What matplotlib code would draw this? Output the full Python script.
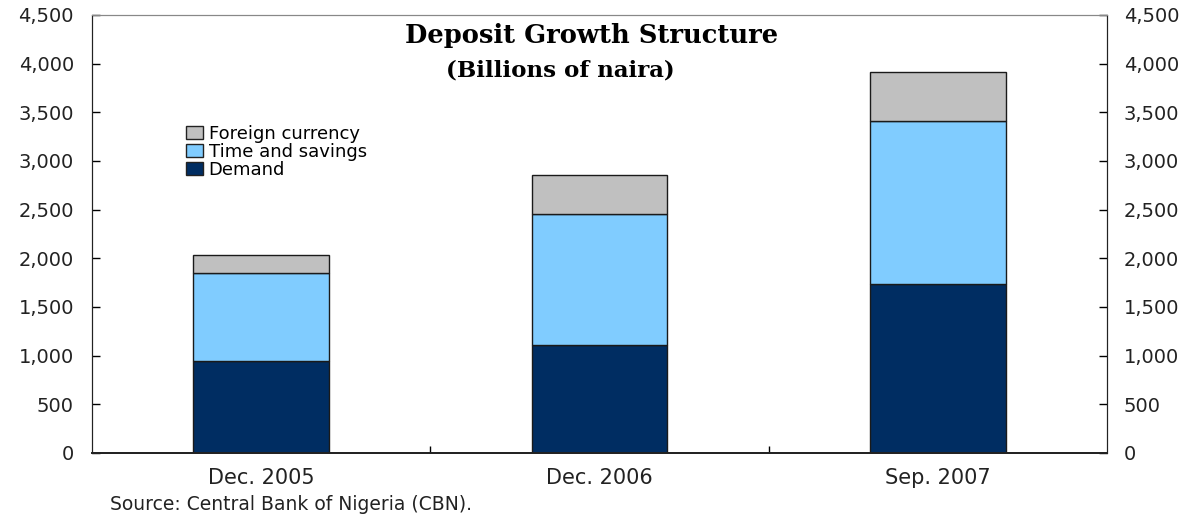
import matplotlib
matplotlib.use("Agg")
import matplotlib.pyplot as plt
import numpy as np
from matplotlib.patches import Patch

categories = ["Dec. 2005", "Dec. 2006", "Sep. 2007"]
demand = [945, 1110, 1737]
time_savings = [905, 1346, 1675]
foreign = [185, 401, 504]

c_demand = "#002D62"
c_time = "#80CCFF"
c_foreign = "#C0C0C0"

plt.rcParams['font.family'] = ['DejaVu Sans']

fig = plt.figure(figsize=(11.94, 5.14), dpi=100)
ax = fig.add_axes([92/1194, 1-453/514, (1107-92)/1194, (453-15)/514])

x = np.arange(len(categories))
w = 0.4
d = np.array(demand); t = np.array(time_savings); f = np.array(foreign)
ax.bar(x, d, w, color=c_demand, edgecolor="#1a1a1a", linewidth=1.0)
ax.bar(x, t, w, bottom=d, color=c_time, edgecolor="#1a1a1a", linewidth=1.0)
ax.bar(x, f, w, bottom=d + t, color=c_foreign, edgecolor="#1a1a1a", linewidth=1.0)

ax.set_xlim(-0.5, 2.5)
ax.set_ylim(0, 4500)
yt = np.arange(0, 4501, 500)
ax.set_yticks(yt)
ax.set_yticklabels([f"{v:,}" for v in yt], fontsize=14, color="#222222")
ax.tick_params(axis='y', direction='in', length=6, pad=13, width=1)

ax.set_xticks(x)
ax.set_xticklabels(categories, fontsize=15, color="#222222")
ax.tick_params(axis='x', which='major', length=0, pad=11)
ax.set_xticks([0.5, 1.5], minor=True)
ax.tick_params(axis='x', which='minor', direction='in', length=5, width=1)

ax2 = ax.twinx()
ax2.set_ylim(0, 4500)
ax2.set_yticks(yt)
ax2.set_yticklabels([f"{v:,}" for v in yt], fontsize=14, color="#222222")
ax2.tick_params(axis='y', direction='in', length=6, pad=12, width=1)

for a in (ax, ax2):
    a.spines['top'].set_color('#888888')
    a.spines['left'].set_color('#222222')
    a.spines['right'].set_color('#222222')
    a.spines['bottom'].set_color('#222222')
    a.spines['bottom'].set_linewidth(1.3)

fig.text(592/1194, 1-35/514, "Deposit Growth Structure", ha='center', va='center',
         fontsize=18.5, fontweight='bold', family=['DejaVu Serif'])
fig.text(560/1194, 1-70/514, "(Billions of naira)", ha='center', va='center',
         fontsize=16.5, fontweight='bold', family=['DejaVu Serif'])

handles = [Patch(facecolor=c_foreign, edgecolor='#222222', label='Foreign currency'),
           Patch(facecolor=c_time, edgecolor='#222222', label='Time and savings'),
           Patch(facecolor=c_demand, edgecolor='#222222', label='Demand')]
leg = ax.legend(handles=handles, loc='upper left', bbox_to_anchor=((186-92)/1015, 1-110/438),
                frameon=False, fontsize=13, handlelength=0.95, handleheight=0.75,
                handletextpad=0.3, labelspacing=0.0, borderaxespad=0, borderpad=0)

fig.text(110/1194, 1-505/514, "Source: Central Bank of Nigeria (CBN).", ha='left', va='center',
         fontsize=13.5, color='#222222')

fig.savefig("out.png", dpi=100)
